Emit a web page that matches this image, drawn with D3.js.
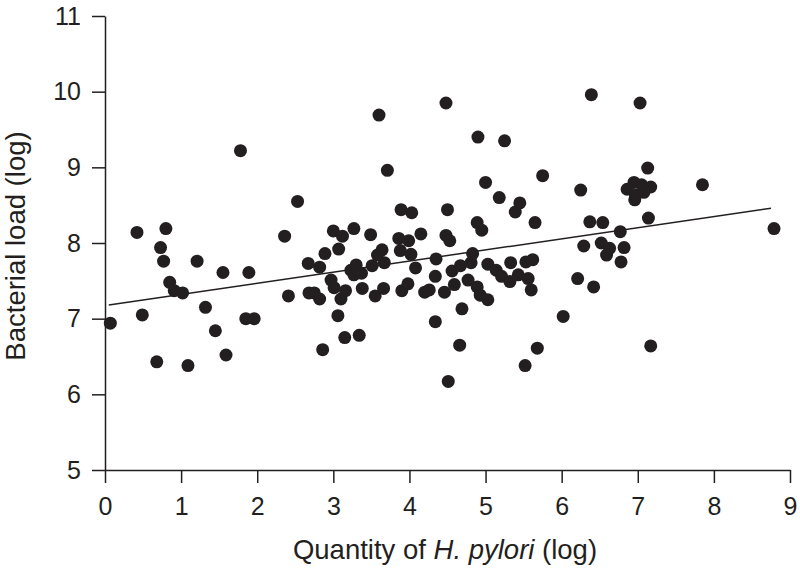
<!DOCTYPE html>
<html>
<head>
<meta charset="utf-8">
<script src="https://cdn.jsdelivr.net/npm/d3@7"></script>
<style>
  html, body { margin: 0; padding: 0; background: #fff; }
  svg { display: block; }
  text { font-family: "Liberation Sans", Arial, Helvetica, sans-serif; fill: #231f20; }
</style>
</head>
<body>
<svg id="chart" width="800" height="569"></svg>
<script>
// Data
const xValues = [
  0.07,0.42,0.49,0.68,0.73,0.77,0.80,0.85,0.91,1.02,1.09,1.21,1.32,1.45,1.55,1.59,1.78,1.85,1.89,1.96,
  2.36,2.41,2.53,2.67,2.68,2.75,2.82,2.82,2.86,2.89,2.97,3.00,3.01,3.06,3.07,3.10,3.12,3.15,3.16,3.23,
  3.27,3.27,3.30,3.34,3.37,3.38,3.49,3.51,3.55,3.58,3.60,3.64,3.66,3.67,3.71,3.86,3.88,3.89,3.90,3.98,
  3.99,4.02,4.03,4.08,4.15,4.20,4.26,4.34,4.35,4.34,4.46,4.48,4.48,4.50,4.51,4.53,4.56,4.59,4.66,4.67,
  4.69,4.77,4.81,4.83,4.89,4.89,4.90,4.93,4.95,5.00,5.03,5.03,5.14,5.18,5.21,5.25,5.32,5.33,5.39,5.43,
  5.45,5.52,5.53,5.56,5.60,5.62,5.65,5.68,5.75,6.02,6.21,6.25,6.29,6.37,6.39,6.42,6.52,6.54,6.59,6.63,
  6.77,6.78,6.82,6.86,6.95,6.96,6.97,7.03,7.05,7.08,7.13,7.14,7.17,7.17,7.85,8.79
];
const yValues = [
  6.94,8.14,7.05,6.43,7.94,7.76,8.19,7.48,7.37,7.34,6.38,7.76,7.15,6.84,7.61,6.52,9.22,7.00,7.61,7.00,
  8.09,7.30,8.55,7.73,7.34,7.34,7.68,7.26,6.59,7.86,7.51,8.16,7.41,7.04,7.92,7.26,8.09,6.75,7.37,7.64,
  8.19,7.58,7.71,6.78,7.60,7.40,8.11,7.70,7.30,7.84,9.69,7.91,7.40,7.74,8.96,8.06,7.90,8.44,7.37,7.46,
  8.03,7.85,8.40,7.67,8.12,7.35,7.38,7.56,7.79,6.96,7.35,9.85,8.10,8.44,6.17,8.03,7.63,7.45,6.65,7.70,
  7.13,7.51,7.74,7.86,8.27,7.42,9.40,7.31,8.17,8.80,7.72,7.25,7.64,8.60,7.56,9.35,7.49,7.74,8.41,7.58,
  8.53,6.38,7.75,7.53,7.38,7.78,8.27,6.61,8.89,7.03,7.53,8.70,7.96,8.28,9.96,7.42,8.00,8.27,7.84,7.93,
  8.15,7.75,7.94,8.71,8.80,8.57,8.63,9.85,8.77,8.67,8.99,8.33,8.74,6.64,8.77,8.19
];
const trendX = [0.05, 8.75];
const trendY = [7.18, 8.46];
const xTicks = [0,1,2,3,4,5,6,7,8,9];
const yTicks = [5,6,7,8,9,10,11];

const svg = d3.select("#chart");
const x = d3.scaleLinear().domain([0, 9]).range([105, 790]);
const y = d3.scaleLinear().domain([5, 11]).range([470, 16]);
const ink = "#231f20";

// Axes
const xAxis = d3.axisBottom(x).tickValues(xTicks).tickFormat(d3.format("d"))
  .tickSize(13).tickSizeOuter(0).tickPadding(14);
const yAxis = d3.axisLeft(y).tickValues(yTicks).tickFormat(d3.format("d"))
  .tickSize(13).tickSizeOuter(0).tickPadding(11);

const gx = svg.append("g").attr("transform", `translate(0,${y(5)})`).call(xAxis);
const gy = svg.append("g").attr("transform", `translate(${x(0)},0)`).call(yAxis);
[gx, gy].forEach(g => {
  g.selectAll("path, line").attr("stroke", ink).attr("stroke-width", 1.5);
  g.selectAll("text").attr("font-size", 25).attr("fill", ink)
    .style("font-family", "'Liberation Sans', Arial, sans-serif");
});

// Trend line
const pts = trendX.map((d, i) => [d, trendY[i]]);
svg.append("path")
  .datum(pts)
  .attr("d", d3.line().x(d => x(d[0])).y(d => y(d[1])))
  .attr("fill", "none").attr("stroke", ink).attr("stroke-width", 1.5);

// Points
const data = xValues.map((d, i) => ({ x: d, y: yValues[i] }));
svg.append("g").selectAll("circle").data(data).join("circle")
  .attr("cx", d => x(d.x)).attr("cy", d => y(d.y)).attr("r", 6.5)
  .attr("fill", ink);

// Axis titles
const xt = svg.append("text").attr("x", 445).attr("y", 559)
  .attr("text-anchor", "middle").attr("font-size", 27.5);
xt.append("tspan").text("Quantity of ");
xt.append("tspan").attr("font-style", "italic").text("H. pylori");
xt.append("tspan").text(" (log)");

svg.append("text")
  .attr("transform", "translate(25,246) rotate(-90)")
  .attr("text-anchor", "middle").attr("font-size", 27.5)
  .text("Bacterial load (log)");
</script>
</body>
</html>
